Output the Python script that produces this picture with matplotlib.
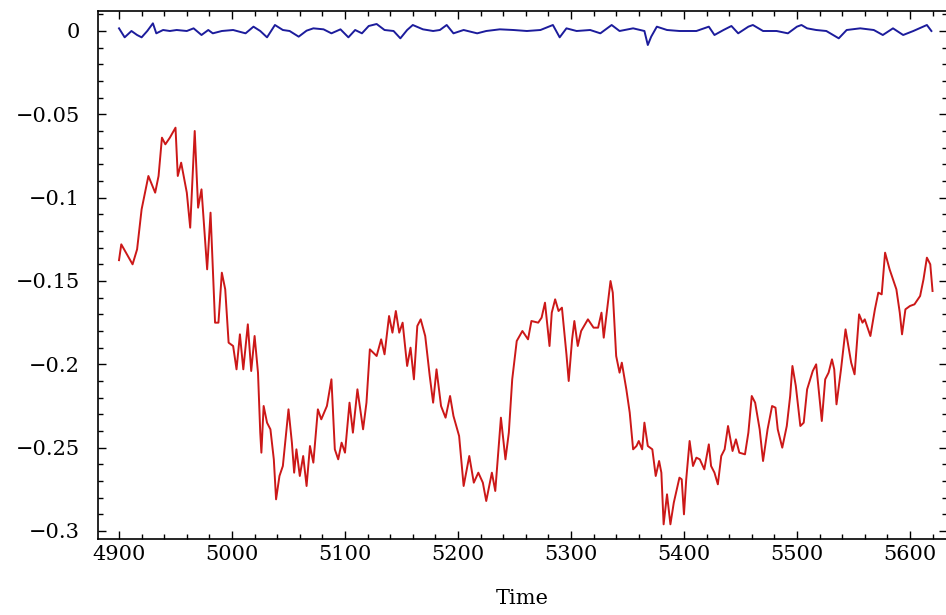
import matplotlib
matplotlib.use("Agg")
import matplotlib.pyplot as plt
from matplotlib.ticker import MultipleLocator

# Red series (time, value)
red_t = [4900, 4902, 4907, 4912, 4916, 4920, 4926, 4932, 4935, 4938, 4941, 4945, 4950, 4952,
         4955, 4960, 4963, 4967, 4970, 4973, 4978, 4981, 4985, 4988, 4991, 4994, 4997, 5001,
         5004, 5007, 5010, 5014, 5017, 5020, 5023, 5025, 5026, 5028, 5031, 5034, 5037, 5039,
         5042, 5045, 5050, 5053, 5055, 5057, 5060, 5063, 5066, 5069, 5072, 5076, 5079, 5084,
         5088, 5091, 5094, 5097, 5100, 5104, 5107, 5111, 5116, 5119, 5122, 5128, 5132, 5135,
         5139, 5142, 5145, 5148, 5151, 5155, 5158, 5161, 5164, 5167, 5171, 5175, 5178, 5181,
         5185, 5189, 5193, 5196, 5201, 5205, 5210, 5214, 5218, 5222, 5225, 5230, 5233, 5238,
         5242, 5245, 5248, 5252, 5257, 5262, 5265, 5271, 5274, 5277, 5281, 5283, 5286, 5289,
         5292, 5296, 5298, 5301, 5303, 5306, 5309, 5315, 5320, 5324, 5327, 5329, 5332, 5335,
         5337, 5340, 5343, 5345, 5349, 5352, 5355, 5358, 5360, 5363, 5365, 5368, 5372, 5375,
         5378, 5380, 5382, 5385, 5388, 5391, 5396, 5398, 5400, 5402, 5405, 5408, 5411, 5414,
         5418, 5422, 5424, 5427, 5430, 5433, 5436, 5439, 5443, 5446, 5449, 5454, 5457, 5460,
         5463, 5467, 5470, 5474, 5478, 5481, 5483, 5487, 5491, 5494, 5496, 5499, 5503, 5506,
         5509, 5514, 5517, 5522, 5525, 5528, 5531, 5533, 5535, 5539, 5543, 5545, 5548, 5551,
         5555, 5558, 5560, 5565, 5569, 5572, 5575, 5578, 5582, 5584, 5588, 5591, 5593, 5596,
         5600, 5604, 5609, 5612, 5615, 5618, 5620]
red_v = [-0.1375, -0.128, -0.134, -0.140, -0.131, -0.107, -0.087, -0.097, -0.087, -0.064, -0.068,
         -0.064, -0.058, -0.087, -0.079, -0.097, -0.118, -0.060, -0.106, -0.095, -0.143, -0.109,
         -0.175, -0.175, -0.145, -0.155, -0.187, -0.189, -0.203, -0.182, -0.203, -0.176, -0.204,
         -0.183, -0.205, -0.241, -0.253, -0.225, -0.235, -0.239, -0.257, -0.281, -0.267, -0.261,
         -0.227, -0.247, -0.265, -0.251, -0.267, -0.255, -0.273, -0.249, -0.259, -0.227, -0.233,
         -0.225, -0.209, -0.251, -0.257, -0.247, -0.253, -0.223, -0.241, -0.215, -0.239, -0.223,
         -0.191, -0.195, -0.185, -0.194, -0.171, -0.181, -0.168, -0.181, -0.175, -0.201, -0.190,
         -0.209, -0.177, -0.173, -0.183, -0.207, -0.223, -0.203, -0.225, -0.232, -0.219, -0.231,
         -0.243, -0.273, -0.255, -0.271, -0.265, -0.271, -0.282, -0.265, -0.276, -0.232, -0.257,
         -0.241, -0.209, -0.186, -0.180, -0.185, -0.174, -0.175, -0.172, -0.163, -0.189, -0.169,
         -0.161, -0.168, -0.166, -0.194, -0.210, -0.185, -0.174, -0.189, -0.180, -0.173, -0.178,
         -0.178, -0.169, -0.184, -0.167, -0.150, -0.157, -0.195, -0.205, -0.199, -0.215, -0.229,
         -0.251, -0.249, -0.246, -0.251, -0.235, -0.249, -0.251, -0.267, -0.258, -0.265, -0.296,
         -0.278, -0.296, -0.283, -0.268, -0.269, -0.290, -0.269, -0.246, -0.261, -0.256, -0.257,
         -0.263, -0.248, -0.261, -0.265, -0.272, -0.255, -0.251, -0.237, -0.252, -0.245, -0.253,
         -0.254, -0.241, -0.219, -0.223, -0.239, -0.258, -0.239, -0.225, -0.226, -0.239, -0.250,
         -0.237, -0.219, -0.201, -0.213, -0.237, -0.235, -0.215, -0.204, -0.200, -0.234, -0.209,
         -0.205, -0.197, -0.203, -0.224, -0.203, -0.179, -0.187, -0.199, -0.206, -0.170, -0.175,
         -0.173, -0.183, -0.167, -0.157, -0.158, -0.133, -0.143, -0.147, -0.155, -0.169, -0.182,
         -0.167, -0.165, -0.164, -0.159, -0.149, -0.136, -0.140, -0.156]

# Blue series (time, value)
blue_t = [4900, 4905, 4911, 4916, 4920, 4925, 4930, 4933, 4939, 4945, 4951, 4960, 4966, 4973,
          4979, 4983, 4991, 5001, 5012, 5019, 5025, 5031, 5038, 5045, 5051, 5059, 5066, 5072,
          5081, 5088, 5096, 5103, 5109, 5115, 5121, 5128, 5135, 5143, 5149, 5155, 5160, 5169,
          5178, 5184, 5190, 5196, 5205, 5217, 5225, 5237, 5249, 5261, 5273, 5284, 5290, 5296,
          5305, 5317, 5326, 5336, 5343, 5355, 5365, 5368, 5371, 5376, 5385, 5396, 5411, 5422,
          5427, 5435, 5442, 5448, 5457, 5461, 5470, 5482, 5492, 5500, 5504, 5509, 5517, 5526,
          5537, 5544, 5556, 5568, 5576, 5585, 5594, 5603, 5615, 5619]
blue_v = [0.0016, -0.0038, 0.0, -0.0024, -0.0038, 0.0, 0.0046, -0.0014, 0.0006, 0.0, 0.0006,
          0.0, 0.0016, -0.0024, 0.0006, -0.0014, 0.0, 0.0006, -0.0014, 0.0026, 0.0, -0.0038,
          0.0036, 0.0006, 0.0, -0.0034, 0.0002, 0.0016, 0.001, -0.0014, 0.001, -0.0038, 0.0006,
          -0.0014, 0.003, 0.0042, 0.0006, 0.0, -0.0044, 0.0006, 0.0036, 0.001, 0.0, 0.0006,
          0.0036, -0.0014, 0.0006, -0.0014, 0.0, 0.001, 0.0006, 0.0, 0.0006, 0.0036, -0.0038,
          0.0016, 0.0, 0.0006, -0.0014, 0.0036, 0.0, 0.0016, 0.0, -0.0084, -0.0034, 0.0026,
          0.0006, 0.0, 0.0, 0.0026, -0.0024, 0.0006, 0.003, -0.0014, 0.0026, 0.0036, 0.0, 0.0,
          -0.0014, 0.0026, 0.0036, 0.0016, 0.0006, 0.0, -0.0044, 0.0006, 0.0016, 0.0006,
          -0.0024, 0.0016, -0.0024, 0.0, 0.0036, 0.0]

x_label = "Time"

plt.rcParams['font.family'] = ['DejaVu Serif']
fig = plt.figure(figsize=(9.46, 6.15), dpi=100)
ax = fig.add_axes([98/946, 76/615, 849/946, 528/615])

ax.plot(blue_t, blue_v, color='#1c1c9c', lw=1.4)
ax.plot(red_t, red_v, color='#cc1818', lw=1.4)

ax.set_xlim(4881.4, 5632.8)
ax.set_ylim(-0.3048, 0.012)

ax.xaxis.set_major_locator(MultipleLocator(100))
ax.xaxis.set_minor_locator(MultipleLocator(20))
ax.yaxis.set_major_locator(MultipleLocator(0.05))
ax.yaxis.set_minor_locator(MultipleLocator(0.01))

def yfmt(v, pos):
    if abs(v) < 1e-9:
        return "0"
    s = ("%.2f" % v).rstrip('0')
    return s.replace('-', '\u2212')
ax.yaxis.set_major_formatter(plt.FuncFormatter(yfmt))
ax.xaxis.set_major_formatter(plt.FuncFormatter(lambda v, p: "%d" % v))

ax.tick_params(which='both', direction='in', top=True, right=True, width=1.0, colors='black')
ax.tick_params(which='major', length=6, labelsize=15)
ax.tick_params(axis='x', which='major', pad=4)
ax.tick_params(axis='y', which='major', pad=13)
ax.tick_params(which='minor', length=3.5)
for s in ax.spines.values():
    s.set_linewidth(1.2)

ax.set_xlabel(x_label, fontsize=15, labelpad=18)

fig.savefig("out.png", dpi=100)
